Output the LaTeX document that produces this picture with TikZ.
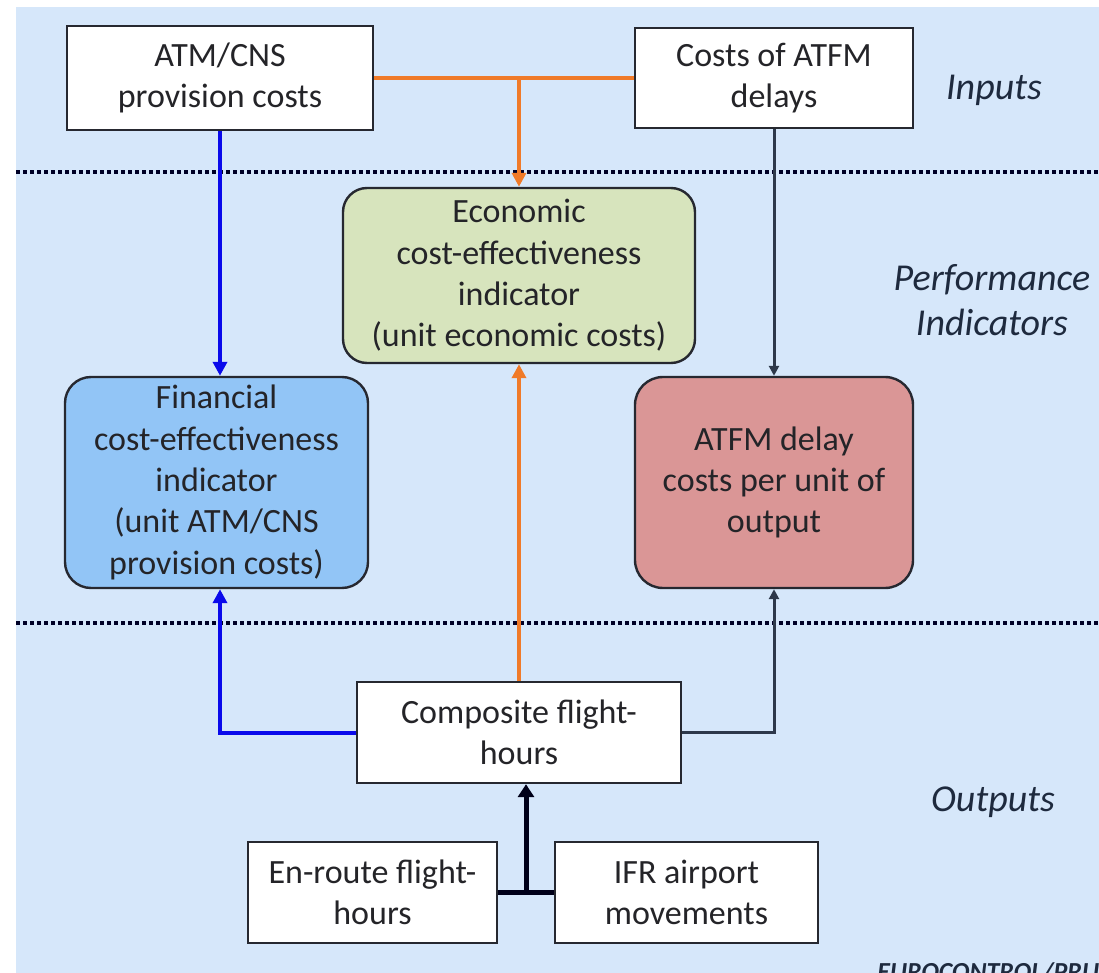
\documentclass[tikz,border=0pt]{standalone}
\usepackage{fontspec}
\setmainfont{Carlito}
\usetikzlibrary{arrows.meta,calc}

\definecolor{bgblue}{RGB}{214,231,250}
\definecolor{finblue}{RGB}{146,197,246}
\definecolor{econgreen}{RGB}{215,228,189}
\definecolor{delayred}{RGB}{218,150,150}
\definecolor{flowor}{RGB}{240,122,40}
\definecolor{flowblue}{RGB}{10,10,235}
\definecolor{flowdark}{RGB}{45,56,74}
\definecolor{edgec}{RGB}{38,40,48}
\definecolor{txt}{RGB}{36,36,40}
\definecolor{lbl}{RGB}{30,42,62}

\tikzset{
  box/.style={draw=edgec, line width=1.2pt, fill=white, align=center,
    inner sep=0pt, text=txt, font=\fontsize{17}{20.7}\selectfont},
  rbox/.style={box, rounded corners=12pt},
  layer/.style={text=lbl, align=center, font=\fontsize{19}{22.5}\selectfont\itshape},
  sep/.style={line width=2pt, draw=black!85!blue, dash pattern=on 2pt off 1.5pt},
  tip/.style={-{Triangle[length=7pt,width=7pt]}},
  smalltip/.style={-{Triangle[length=5pt,width=5pt]}},
}

\begin{document}
\begin{tikzpicture}[x=0.5pt,y=-0.5pt]
  % canvas
  \useasboundingbox (0,0) rectangle (1099,973);
  \fill[white] (0,0) rectangle (1099,973);
  \fill[bgblue] (16,7) rectangle (1099,973);

  % layer separators
  \draw[sep] (16,172) -- (1099,172);
  \draw[sep] (16,623) -- (1099,623);

  % inputs
  \node[box, minimum width=153pt, minimum height=52pt] (atm) at (220,78)
    {ATM/CNS\\provision costs};
  \node[box, minimum width=139pt, minimum height=50pt] (atfmc) at (774,78)
    {Costs of ATFM\\delays};

  % indicators
  \node[rbox, fill=econgreen, minimum width=176pt, minimum height=87.5pt] (econ) at (519,275.5)
    {Economic\\cost-effectiveness\\indicator\\(unit economic costs)};
  \node[rbox, rounded corners=13pt, fill=finblue, minimum width=151.5pt, minimum height=105.5pt] (fin) at (216.5,482.5)
    {Financial\\cost-effectiveness\\indicator\\(unit ATM/CNS\\provision costs)};
  \node[rbox, rounded corners=14pt, fill=delayred, minimum width=139pt, minimum height=105.5pt] (atfm) at (774,482.5)
    {ATFM delay\\costs per unit of\\output};

  % outputs
  \node[box, minimum width=162pt, minimum height=50.5pt] (comp) at (519,732.5)
    {Composite flight-\\hours};
  \node[box, minimum width=124.5pt, minimum height=50.5pt] (enr) at (372.5,892.5)
    {En-route flight-\\hours};
  \node[box, minimum width=131.5pt, minimum height=50.5pt] (ifr) at (686.5,892.5)
    {IFR airport\\movements};

  % layer labels
  \node[layer] (lin) at (994,90) {Inputs};
  \node[layer] (lpi) at (992,300) {Performance\\Indicators};
  \node[layer] (lout) at (993,802) {Outputs};

  % connectors: inputs to indicators
  \coordinate (tj) at (econ.north |- atm.east);
  \draw[flowor, line width=2pt] (atm.east) -- (atfmc.west);
  \draw[flowor, line width=2pt, tip] (tj) -- (econ.north);
  \draw[flowblue, line width=2pt, tip] (atm.south) -- (atm.south |- fin.north);
  \draw[flowdark, line width=1.5pt, smalltip] (atfmc.south) -- (atfm.north);

  % connectors: outputs to indicators
  \draw[flowor, line width=2pt, tip] (comp.north) -- (econ.south);
  \draw[flowblue, line width=2pt, tip] (comp.west) -| (atm.south |- fin.south);
  \draw[flowdark, line width=1.5pt, smalltip] (comp.east) -| (atfm.south);

  % component outputs merge into the composite
  \coordinate (j) at ($(enr.east)!0.5!(ifr.west)$);
  \draw[black!90!blue, line width=2.5pt] (enr.east) -- (ifr.west);
  \draw[black!90!blue, line width=2.5pt, -{Triangle[length=6.5pt,width=8pt]}] (j) -- (j |- comp.south);

  % source line
  \begin{scope}
    \clip (0,0) rectangle (1099,973);
    \node[anchor=base west, inner sep=0pt, text=lbl,
      font=\fontsize{13}{15}\selectfont\bfseries\itshape] (src) at (877,980) {EUROCONTROL/PRU};
  \end{scope}
\end{tikzpicture}
\end{document}
